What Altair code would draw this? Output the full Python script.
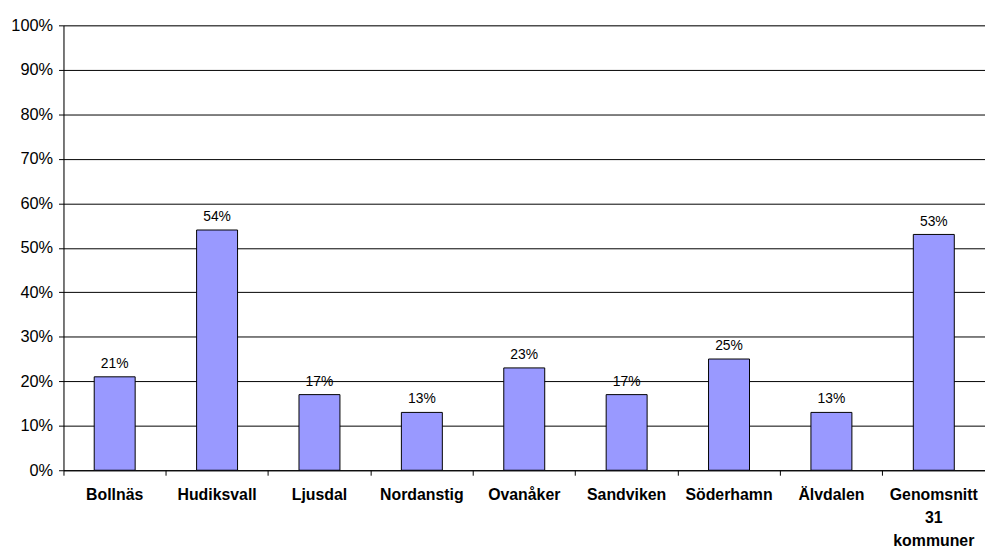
import altair as alt
import pandas as pd

categories = ["Bollnäs", "Hudiksvall", "Ljusdal", "Nordanstig", "Ovanåker",
              "Sandviken", "Söderhamn", "Älvdalen", "Genomsnitt|31|kommuner"]
values = [0.21, 0.54, 0.17, 0.13, 0.23, 0.17, 0.25, 0.13, 0.53]
labels = ["21%", "54%", "17%", "13%", "23%", "17%", "25%", "13%", "53%"]

df = pd.DataFrame({"cat": categories, "val": values, "lab": labels})

x = alt.X("cat:N", sort=categories, title=None,
          scale=alt.Scale(paddingInner=0, paddingOuter=0),
          axis=alt.Axis(labelAngle=0, bandPosition=0, labelFont="Liberation Sans",
                        labelFontSize=16, labelFontWeight="bold", labelColor="black",
                        labelPadding=12, labelLineHeight=23,
                        labelExpr="split(datum.value, '|')",
                        domainColor="black", tickColor="black", tickSize=5,
                        labelBaseline="top", grid=False))
y = alt.Y("val:Q", title=None,
          scale=alt.Scale(domain=[0, 1], nice=False),
          axis=alt.Axis(format=".0%", values=[i / 10 for i in range(11)],
                        labelFont="Liberation Sans", labelFontSize=16.5,
                        labelColor="black", labelPadding=6,
                        domainColor="black", tickColor="black", tickSize=5,
                        gridColor="black", gridWidth=1, gridOpacity=1))

bars = alt.Chart(df).mark_bar(width=alt.RelativeBandSize(0.4), color="#9999FF",
                              stroke="black", strokeWidth=1).encode(x=x, y=y)
text = alt.Chart(df).mark_text(dy=-9, baseline="alphabetic", font="Liberation Sans",
                               fontSize=14, color="black").encode(x=x, y=y, text="lab:N")

chart = (bars + text).properties(
    width=930, height=449,
    autosize=alt.AutoSizeParams(type="none"),
    padding={"left": 56, "top": 15, "right": 0, "bottom": 80},
).configure_view(stroke=None).configure(background="white")

chart.save("out.html", embed_options={"renderer": "svg", "actions": False})
